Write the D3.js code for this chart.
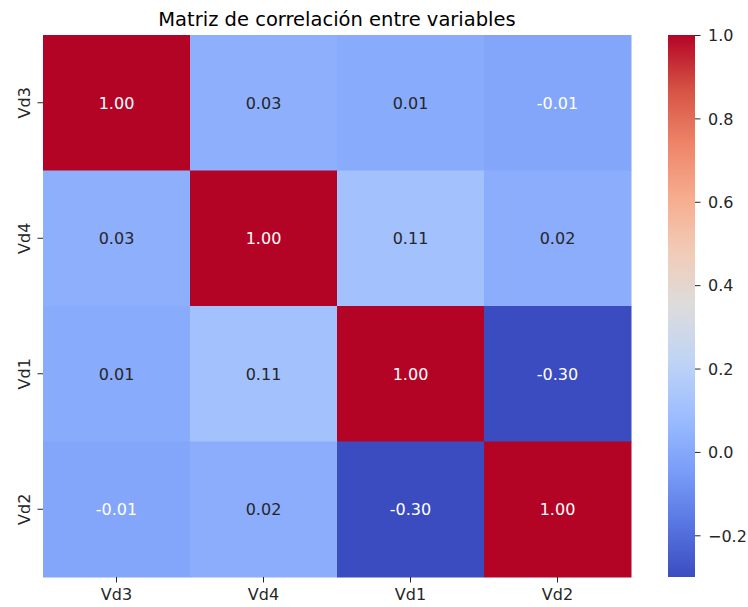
<!DOCTYPE html>
<html>
<head>
<meta charset="utf-8">
<script src="https://cdn.jsdelivr.net/npm/d3@7"></script>
<style>
  body { margin: 0; background: #fff; }
  text { font-family: "DejaVu Sans", sans-serif; }
</style>
</head>
<body>
<script>
// data
const variables = ['Vd3', 'Vd4', 'Vd1', 'Vd2'];
const matrix = [
	[1.00, 0.03, 0.01, -0.01],
	[0.03, 1.00, 0.11, 0.02],
	[0.01, 0.11, 1.00, -0.30],
	[-0.01, 0.02, -0.30, 1.00]
];
const colorTicks = [-0.2, 0.0, 0.2, 0.4, 0.6, 0.8, 1.0];
const title = 'Matriz de correlación entre variables';

// coolwarm samples
const COOLWARM = ['#3b4cc0', '#5977e3', '#7b9ff9', '#9ebeff', '#c0d4f5', '#dddcdc',
	'#f2cbb7', '#f7ac8e', '#ee8468', '#d65244', '#b40426'];
const TEXT_DARK = '#262626';
const FONT_SIZE = 16;

const width = 748, height = 607;
const margin = { left: 43, top: 35 };
const plotW = 631 - 43, plotH = 577 - 35;

const vmin = -0.30, vmax = 1.0;
const cmap = d3.scaleLinear()
	.domain(d3.range(COOLWARM.length).map(i => vmin + (vmax - vmin) * i / (COOLWARM.length - 1)))
	.range(COOLWARM)
	.interpolate(d3.interpolateRgb)
	.clamp(true);

const svg = d3.select('body').append('svg')
	.attr('width', width)
	.attr('height', height);

const g = svg.append('g').attr('transform', `translate(${margin.left},${margin.top})`);

const x = d3.scaleBand().domain(variables).range([0, plotW]);
const y = d3.scaleBand().domain(variables).range([0, plotH]);

const cells = [];
matrix.forEach((row, i) => row.forEach((v, j) => cells.push({ r: variables[i], c: variables[j], v })));

g.selectAll('rect.cell')
	.data(cells)
	.enter()
	.append('rect')
	.attr('class', 'cell')
	.attr('x', d => x(d.c))
	.attr('y', d => y(d.r))
	.attr('width', x.bandwidth() + 0.5)
	.attr('height', y.bandwidth() + 0.5)
	.attr('fill', d => cmap(d.v));

function luminance(color) {
	const c = d3.rgb(color);
	const f = v => { v /= 255; return v <= 0.03928 ? v / 12.92 : Math.pow((v + 0.055) / 1.055, 2.4); };
	return 0.2126 * f(c.r) + 0.7152 * f(c.g) + 0.0722 * f(c.b);
}

g.selectAll('text.annot')
	.data(cells)
	.enter()
	.append('text')
	.attr('class', 'annot')
	.attr('x', d => x(d.c) + x.bandwidth() / 2)
	.attr('y', d => y(d.r) + y.bandwidth() / 2)
	.attr('text-anchor', 'middle')
	.attr('dy', '0.36em')
	.attr('font-size', FONT_SIZE)
	.attr('fill', d => luminance(cmap(d.v)) > 0.408 ? TEXT_DARK : '#ffffff')
	.text(d => d.v.toFixed(2));

// axes
const xAxis = g.append('g')
	.attr('transform', `translate(0,${plotH})`)
	.call(d3.axisBottom(x).tickSize(5.5).tickPadding(6));
const yAxis = g.append('g')
	.call(d3.axisLeft(y).tickSize(5.5).tickPadding(6));
[xAxis, yAxis].forEach(a => {
	a.select('.domain').remove();
	a.selectAll('line').attr('stroke', TEXT_DARK).attr('stroke-width', 1);
	a.selectAll('text').attr('font-size', FONT_SIZE).attr('fill', TEXT_DARK).style('font-family', '"DejaVu Sans", sans-serif');
});
yAxis.selectAll('text')
	.attr('transform', 'rotate(-90)')
	.attr('x', 0)
	.attr('y', -13.5)
	.attr('dy', 0)
	.attr('text-anchor', 'middle');

// title
svg.append('text')
	.attr('x', margin.left + plotW / 2)
	.attr('y', 26)
	.attr('text-anchor', 'middle')
	.attr('font-size', 19.5)
	.attr('fill', '#000')
	.text(title);

// colorbar
const cbX = 668, cbW = 27;
const cScale = d3.scaleLinear().domain([vmin, vmax]).range([margin.top + plotH, margin.top]);
const grad = svg.append('defs').append('linearGradient')
	.attr('id', 'cbgrad')
	.attr('x1', 0).attr('y1', 1).attr('x2', 0).attr('y2', 0);
grad.selectAll('stop')
	.data(d3.range(0, 1.0001, 0.02))
	.enter()
	.append('stop')
	.attr('offset', d => d)
	.attr('stop-color', d => cmap(vmin + d * (vmax - vmin)));
svg.append('rect')
	.attr('x', cbX)
	.attr('y', margin.top)
	.attr('width', cbW)
	.attr('height', plotH)
	.attr('fill', 'url(#cbgrad)');

const cAxis = svg.append('g')
	.attr('transform', `translate(${cbX + cbW},0)`)
	.call(d3.axisRight(cScale)
		.tickValues(colorTicks)
		.tickFormat(d => d3.format('.1f')(d).replace('-', '\u2212'))
		.tickSize(5.5)
		.tickPadding(7.5));
cAxis.select('.domain').remove();
cAxis.selectAll('line').attr('stroke', TEXT_DARK).attr('stroke-width', 1);
cAxis.selectAll('text')
	.attr('font-size', FONT_SIZE)
	.attr('dy', '0.36em')
	.attr('fill', TEXT_DARK)
	.style('font-family', '"DejaVu Sans", sans-serif');
</script>
</body>
</html>
